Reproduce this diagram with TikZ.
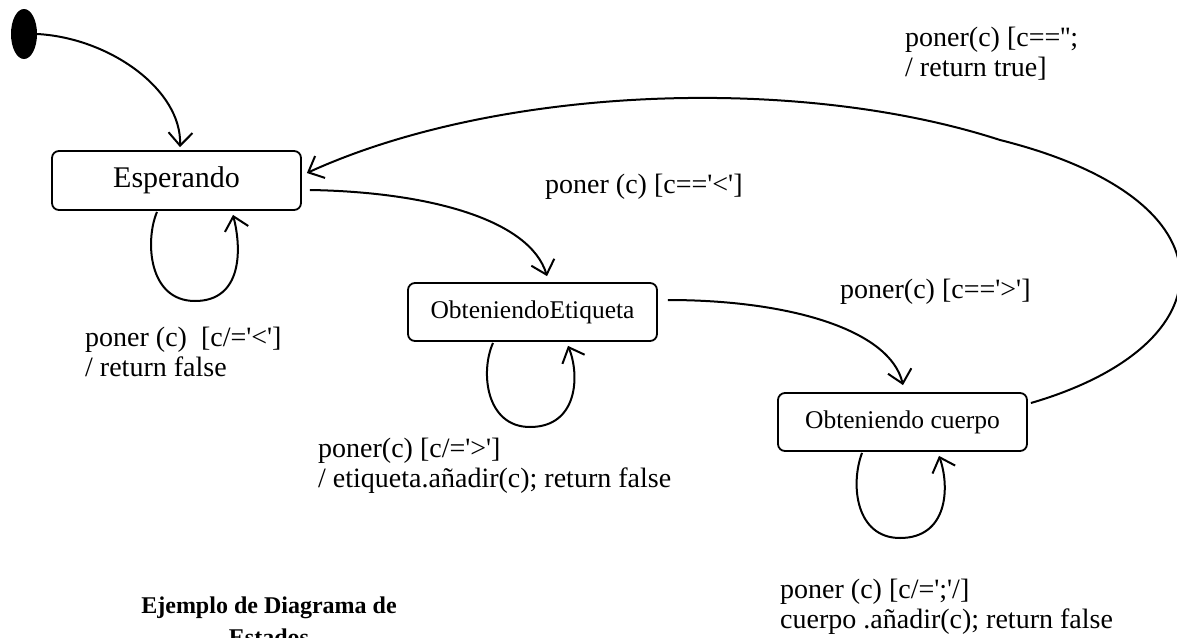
\documentclass[tikz,border=0pt]{standalone}
\usepackage{fontspec}
\setmainfont{Liberation Serif}[Ligatures=TeXOff]
\usetikzlibrary{arrows.meta,shapes.geometric}
\begin{document}
\begin{tikzpicture}[x=1pt,y=-1pt,
  state/.style={draw, line width=1.8pt, rounded corners=7pt, minimum width=249pt, inner sep=0pt},
  conn/.style={line width=2pt, -{Straight Barb[length=13pt,width=24pt,line width=2pt]}},
  lbl/.style={anchor=base west, inner sep=0pt, align=left, font=\fontsize{28}{30}\selectfont},
  ttl/.style={anchor=base, inner sep=0pt, align=center, font=\fontsize{24}{32}\selectfont\bfseries}]
\useasboundingbox (0,0) rectangle (1177,637);
\node[ellipse, fill=black, minimum width=26pt, minimum height=50pt, inner sep=0pt] (init) at (24,34) {};
\node[state, minimum height=59pt, font=\fontsize{30}{32}\selectfont] (esp) at (176.5,180.5) {Esperando};
\node[state, minimum height=58pt, font=\fontsize{25.5}{28}\selectfont] (oe) at (532.5,312) {ObteniendoEtiqueta};
\node[state, minimum height=58pt, font=\fontsize{25.5}{28}\selectfont] (oc) at (902.5,422) {Obteniendo cuerpo};
% init -> Esperando
\draw[conn] (init.east) .. controls (110,38) and (182,90) .. ([xshift=3.5pt,yshift=3pt]esp.north);
% Esperando -> ObteniendoEtiqueta
\draw[conn] ([xshift=8pt,yshift=-9.5pt]esp.east) .. controls (430,192) and (530,220) .. ([xshift=14.5pt,yshift=6pt]oe.north);
% ObteniendoEtiqueta -> Obteniendo cuerpo
\draw[conn] ([xshift=10pt,yshift=12pt]oe.east) .. controls (790,300) and (890,330) .. ([xshift=0.5pt,yshift=7pt]oc.north);
% Obteniendo cuerpo -> Esperando
\coordinate (top) at (1000,140);
\draw[conn] ([xshift=3pt,yshift=19pt]oc.east) .. controls (1230,345) and (1240,200) .. (top)
   .. controls (800,75) and (500,85) .. ([xshift=5pt,yshift=7.5pt]esp.east);
% self loops
\draw[conn] ([xshift=-19.5pt,yshift=-1pt]esp.south) .. controls (145,240) and (148,301) .. (195,301)
   .. controls (242,301) and (242,250) .. ([xshift=56.5pt,yshift=-4pt]esp.south);
\draw[conn] ([xshift=-39.5pt,yshift=-1pt]oe.south) .. controls (480,372) and (486,427) .. (530,427)
   .. controls (578,427) and (580,375) .. ([xshift=35.5pt,yshift=-4pt]oe.south);
\draw[conn] ([xshift=-40.5pt,yshift=-1pt]oc.south) .. controls (850,485) and (856,538) .. (900,538)
   .. controls (948,538) and (950,487) .. ([xshift=36.5pt,yshift=-4pt]oc.south);
% labels (two-line labels are anchored at the baseline of their last line)
\node[lbl] (l1) at (905,76) {poner(c) [c=='';\\/ return true]};
\node[lbl] (l2) at (545,193) {poner (c) [c=='<']};
\node[lbl] (l3) at (85,376) {poner (c)\ \ [c/='<']\\/ return false};
\node[lbl] (l4) at (840,298) {poner(c) [c=='>']};
\node[lbl] (l5) at (318,487) {poner(c) [c/='>']\\/ etiqueta.añadir(c); return false};
\node[lbl] (l6) at (780,628) {poner (c) [c/=';'/]\\cuerpo .añadir(c); return false};
\node[ttl] (title) at (269,645) {Ejemplo de Diagrama de\\Estados};
\end{tikzpicture}
\end{document}
